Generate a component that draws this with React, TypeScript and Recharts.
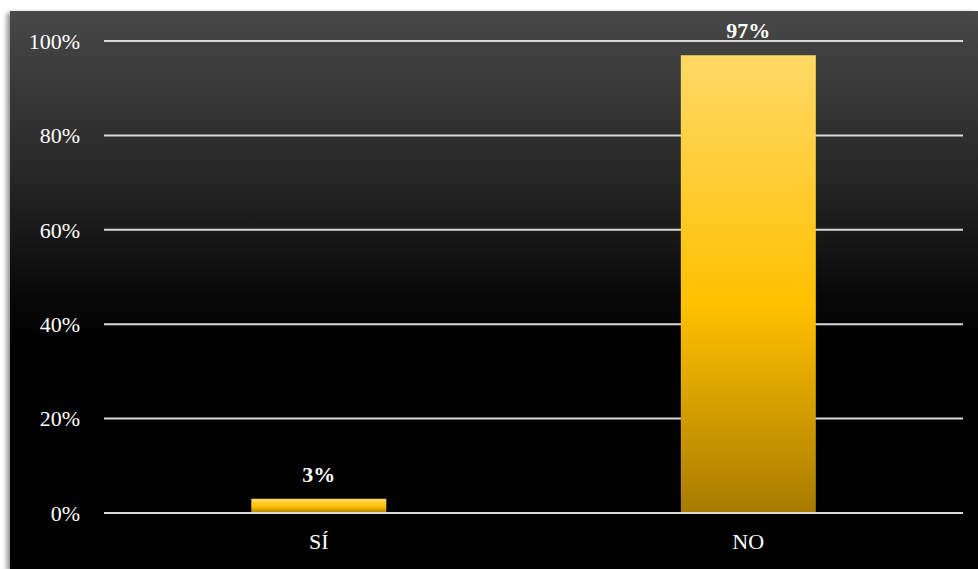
import React from 'react';
import { BarChart, Bar, XAxis, YAxis, CartesianGrid, LabelList } from 'recharts';

const categories = ['SÍ', 'NO'];
const percentages = [3, 97];
const yTicks = [0, 20, 40, 60, 80, 100];

const data = categories.map((name, i) => ({ name, value: percentages[i] }));

const serif = '"Liberation Serif", "Times New Roman", serif';

const App: React.FC = () => {
  return (
    <div style={{ position: 'absolute', left: 0, top: 0, width: 978, height: 569, background: '#fff' }}>
      <div
        style={{
          position: 'absolute',
          left: 10,
          top: 11,
          width: 968,
          height: 558,
          background: 'linear-gradient(to bottom, #484848 0%, #262626 30%, #070707 52%, #000 60%, #000 100%)',
          boxShadow: '-3px 2px 5px rgba(0,0,0,0.45)',
        }}
      >
        <BarChart
          width={968}
          height={558}
          data={data}
          margin={{ top: 30, right: 15, bottom: 0, left: 0 }}
          barCategoryGap="34.3%"
        >
          <defs>
            <linearGradient id="gold" x1="0" y1="0" x2="0" y2="1">
              <stop offset="0%" stopColor="#FFD966" />
              <stop offset="55%" stopColor="#FFC000" />
              <stop offset="100%" stopColor="#A87B00" />
            </linearGradient>
          </defs>
          <CartesianGrid vertical={false} stroke="#D9D9D9" strokeWidth={2} />
          <XAxis
            dataKey="name"
            height={56}
            axisLine={{ stroke: '#D9D9D9', strokeWidth: 2 }}
            tickLine={false}
            tickMargin={14}
            tick={{ fill: '#fff', fontSize: 22, fontFamily: serif }}
          />
          <YAxis
            width={94}
            domain={[0, 100]}
            ticks={yTicks}
            tickFormatter={(v: number) => `${v}%`}
            axisLine={false}
            tickLine={false}
            tickMargin={18}
            tick={{ fill: '#fff', fontSize: 22, fontFamily: serif }}
          />
          <Bar dataKey="value" fill="url(#gold)" isAnimationActive={false}>
            <LabelList
              dataKey="value"
              position="top"
              offset={17}
              formatter={(v: number) => `${v}%`}
              style={{ fill: '#fff', fontSize: 22, fontWeight: 'bold', fontFamily: serif }}
            />
          </Bar>
        </BarChart>
      </div>
    </div>
  );
};

export default App;
